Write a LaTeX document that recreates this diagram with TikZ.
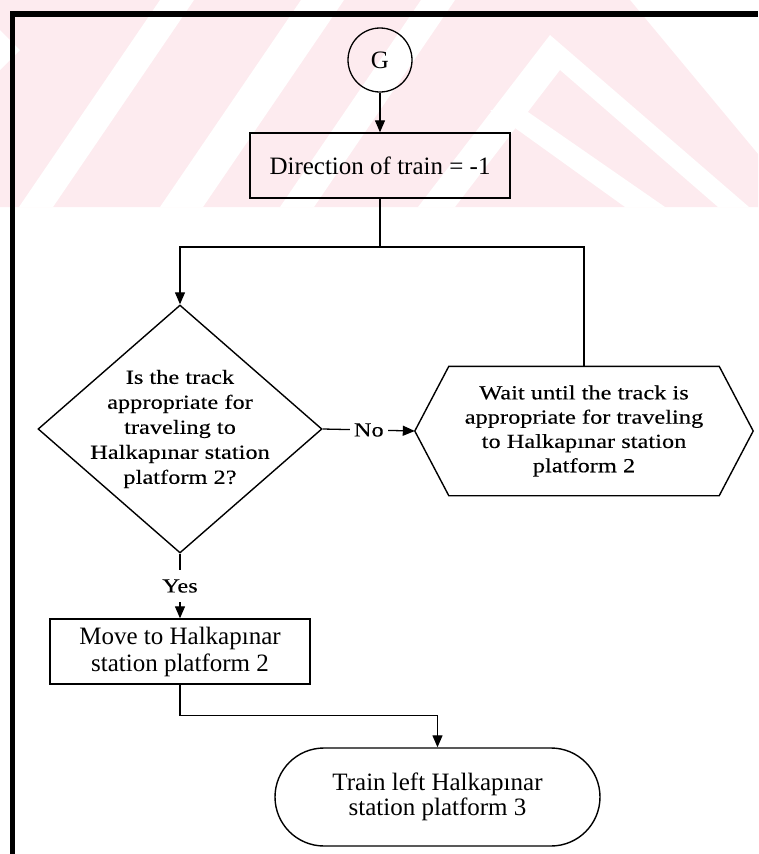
\documentclass[tikz,border=0pt]{standalone}
\usepackage{fontspec}
\setmainfont{Liberation Serif}
\newfontfamily\wideserif[FakeStretch=1.22,FakeBold=0.25]{Liberation Serif}
\usetikzlibrary{arrows.meta,shapes.geometric,shapes.misc}
\definecolor{wmpink}{RGB}{253,235,239}
\tikzset{
  flow/.style={line width=1.3pt},
  arr/.style={flow,-{Triangle[length=12pt,width=10pt]}},
  procbox/.style={draw,line width=1.4pt,rectangle,minimum width=260pt,minimum height=65pt,
    inner sep=0pt,align=center,font=\fontsize{25}{27}\selectfont},
  connector/.style={draw,circle,line width=1.3pt,minimum size=64pt,inner sep=0pt,
    font=\fontsize{25}{27}\selectfont},
  decision/.style={draw,diamond,line width=1.4pt,minimum width=284pt,minimum height=248pt,inner sep=0pt},
  widetext/.style={align=center,inner sep=0pt,font=\wideserif\fontsize{20}{25}\selectfont},
  waitbox/.style={rectangle,minimum width=270pt,minimum height=129pt,inner sep=0pt,align=center,
    font=\wideserif\fontsize{20}{24.3}\selectfont},
  terminal/.style={draw,rounded rectangle,line width=1.4pt,minimum width=325pt,minimum height=98pt,
    inner sep=0pt,align=center,font=\fontsize{25}{25}\selectfont},
  flowlabel/.style={fill=white,inner xsep=4pt,inner ysep=9pt,font=\wideserif\fontsize{20}{24}\selectfont},
}
\begin{document}
\begin{tikzpicture}[x=1pt,y=-1pt]
\useasboundingbox (0,0) rectangle (758,854);

% pink striped band along the top
\fill[wmpink] (0,0) -- (630,0) -- (758,154) -- (758,207) -- (0,207) -- cycle;
\fill[white] (19,207) -- (53,207) -- (194,0) -- (160,0) -- cycle;
\fill[white] (160,207) -- (203,207) -- (344,0) -- (301,0) -- cycle;
\fill[white] (280,207) -- (314,207) -- (455,0) -- (421,0) -- cycle;
\fill[white] (418,207) -- (550,35) -- (749,207) -- (718,207) -- (560,70) -- (455,207) -- cycle;
\fill[white] (490,110) -- (528,112) -- (665,207) -- (625,207) -- cycle;
\fill[white] (0,30) -- (20,50) -- (0,70) -- cycle;

% heavy frame on the top and left
\draw[line width=5.5pt] (10,14) -- (758,14);
\draw[line width=5pt] (12.5,11.25) -- (12.5,854);

% nodes
\node[connector] (g) at (380,60) {G};
\node[procbox] (dir) at (380,165.5) {Direction of train = -1};
\node[decision] (q) at (180,429) {};
\node[widetext] (qt) at (q) {Is the track\\appropriate for\\traveling to\\Halkapınar station\\platform 2?};
\node[waitbox] (w) at (584,431) {Wait until the track is\\appropriate for traveling\\to Halkapınar station\\platform 2};
\coordinate (wl) at ([xshift=-34pt]w.west);
\coordinate (wr) at ([xshift=34pt]w.east);
\draw[line width=1.4pt] (w.north west) -- (w.north east) -- (wr) -- (w.south east)
  -- (w.south west) -- (wl) -- cycle;
\node[procbox] (mv) at (180,651.5) {Move to Halkapınar\\station platform 2};
\node[terminal] (tm) at (437.5,797) {Train left Halkapınar\\station platform 3};

% connectors
\coordinate (jn) at (380,247);
\draw[arr] (g) -- (dir);
\draw[flow] (dir.south) -- (jn);
\draw[arr] (jn) -| (q.north);
\draw[flow] (w.north) |- (jn);
\draw[arr] (q.east) -- node[flowlabel] {No} (wl);
\draw[arr] (q.south) -- node[flowlabel,inner xsep=2pt] {Yes} (mv.north);
\draw[arr] (mv.south) -- ++(0,31) -| (tm.north);
\end{tikzpicture}
\end{document}
